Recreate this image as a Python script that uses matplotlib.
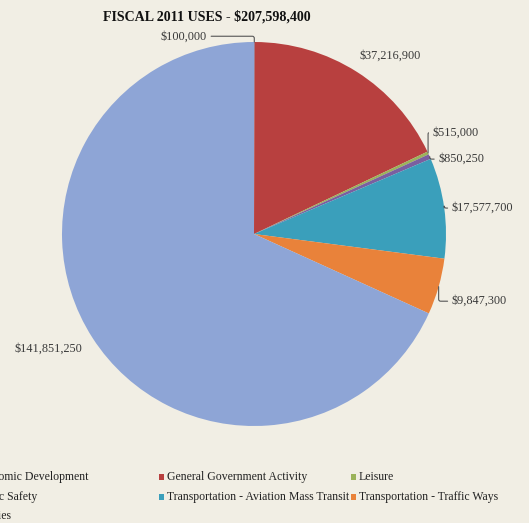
import numpy as np
import matplotlib
matplotlib.use("Agg")
import matplotlib.pyplot as plt
from matplotlib.patches import Rectangle

plt.rcParams["font.family"] = ["Liberation Serif", "DejaVu Serif"]

# ------------------------------
# Fiscal 2011 uses by category
# ------------------------------
categories = [
    "Economic Development",
    "General Government Activity",
    "Leisure",
    "Public Safety",
    "Transportation - Aviation Mass Transit",
    "Transportation - Traffic Ways",
    "Utilities",
]
amounts = [100000, 37216900, 515000, 850250, 17577700, 9847300, 141851250]
colors = ["#4a6fae", "#b8403f", "#9bb35a", "#7a5fa0", "#3a9fbb", "#e9823a", "#8ea5d6"]
value_labels = ["$100,000", "$37,216,900", "$515,000", "$850,250",
                "$17,577,700", "$9,847,300", "$141,851,250"]

# where each value label sits (axes data units) and how it is aligned
label_pos = [(-0.245, 1.03), (0.71, 0.93), (0.93, 0.53), (0.96, 0.39),
             (1.03, 0.135), (1.03, -0.35), (-1.07, -0.60)]
label_ha = ["right", "center", "left", "left", "left", "left", "center"]
leader = [True, False, True, True, True, True, False]

bg = "#f1eee4"
W, H = 529, 523
fig = plt.figure(figsize=(W / 100, H / 100), dpi=100, facecolor=bg)

cx, cy, r = 254, 234, 192
ax = fig.add_axes([(cx - r) / W, (H - cy - r) / H, 2 * r / W, 2 * r / H])
ax.set_facecolor(bg)
wedges, _ = ax.pie(amounts, colors=colors, startangle=90, counterclock=False,
                   radius=1, wedgeprops=dict(linewidth=0))
ax.set_xlim(-1, 1)
ax.set_ylim(-1, 1)
ax.set_aspect("equal")
ax.axis("off")

# value labels with small leader lines
for w, txt, (lx, ly), ha, has_line in zip(wedges, value_labels, label_pos, label_ha, leader):
    mid = np.deg2rad((w.theta1 + w.theta2) / 2)
    ex, ey = np.cos(mid), np.sin(mid)
    if has_line:
        ax.annotate(txt, xy=(ex, ey), xytext=(lx, ly), ha=ha, va="center",
                    fontsize=8.8, color="#3a3a3a", annotation_clip=False,
                    arrowprops=dict(arrowstyle="-", color="#555555", lw=0.8,
                                    shrinkA=1, shrinkB=0,
                                    connectionstyle="angle,angleA=0,angleB=90,rad=2"))
    else:
        ax.text(lx, ly, txt, ha=ha, va="center", fontsize=8.8, color="#3a3a3a")

fig.text(103 / W, 1 - 17 / H, "FISCAL 2011 USES - $207,598,400", fontsize=10.1,
         fontweight="bold", ha="left", va="center", color="#111111")

# legend laid out in three columns, rows filled left to right
col_x = [-26, 167, 359]
row_y = [477, 497, 516]
for i, (name, c) in enumerate(zip(categories, colors)):
    row, col = divmod(i, 3)
    tx, ty = col_x[col], row_y[row]
    fig.patches.append(Rectangle(((tx - 8) / W, 1 - (ty + 3) / H), 5 / W, 6 / H,
                                 transform=fig.transFigure, facecolor=c,
                                 edgecolor="none"))
    fig.text(tx / W, 1 - ty / H, name, fontsize=8.5, ha="left", va="center",
             color="#222222")

fig.savefig("out.png", dpi=100, facecolor=bg)
